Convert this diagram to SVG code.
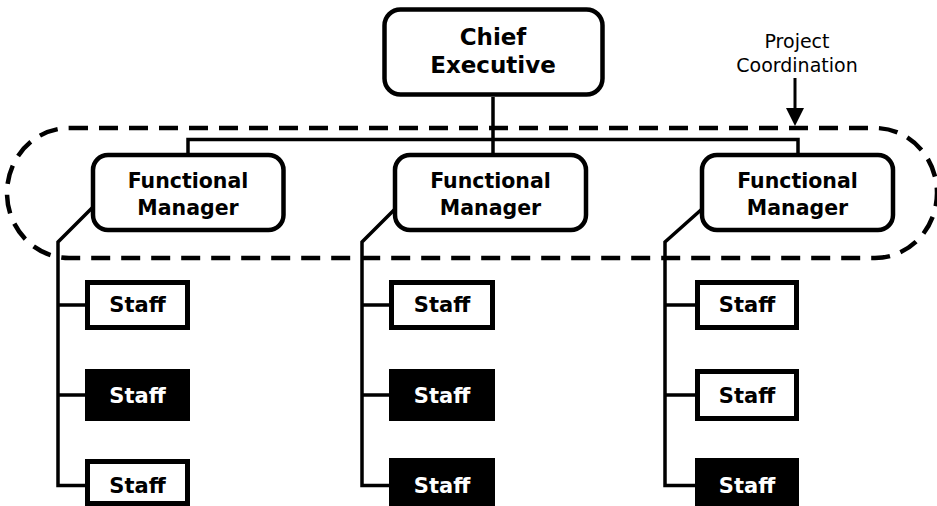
<svg xmlns="http://www.w3.org/2000/svg" width="937" height="506" viewBox="0 0 937 506">
<style>
.rbox{fill:#fff;stroke:#000;stroke-width:4.5}
.sw{fill:#fff;stroke:#000;stroke-width:5}
.sb{fill:#000;stroke:none}
.t{font-family:"DejaVu Sans","Liberation Sans",sans-serif;font-weight:bold;text-anchor:middle;fill:#000}
.tw{fill:#fff}
.ln{fill:none;stroke:#000;stroke-width:3.5;stroke-linejoin:miter}
.dash{fill:none;stroke:#000;stroke-width:4.5;stroke-dasharray:19 11}
.lbl{font-family:"DejaVu Sans","Liberation Sans",sans-serif;font-size:19px;text-anchor:middle;fill:#000}
</style>
<rect width="937" height="506" fill="#fff"/>
<g id="connectors">
<path class="ln" d="M493 97V140M188 156V139.5H798V156M493 139.5V156"/>
<path class="ln" d="M93 207L58 242V485.5H87M58 305H87M58 395H85"/>
<path class="ln" d="M395 209L362 242V485.5H389M362 305H389M362 395H389"/>
<path class="ln" d="M702 209L665 242V485.5H695M665 305H695M665 395H695"/>
</g>
<g id="project-coordination">
<rect class="dash" x="7" y="128" width="930" height="130" rx="62" ry="65"/>
<text class="lbl" x="797" y="48">Project</text>
<text class="lbl" x="797" y="72">Coordination</text>
<line x1="795" y1="78" x2="795" y2="110" stroke="#000" stroke-width="3"/>
<polygon points="786,108 804,108 795,126" fill="#000"/>
</g>
<g id="chief">
<rect class="rbox" x="384.5" y="9.5" width="218" height="85" rx="16" stroke-width="5"/>
<text class="t" font-size="23" x="493" y="45">Chief</text>
<text class="t" font-size="23" x="493" y="73">Executive</text>
</g>
<g id="fm1">
<rect class="rbox" x="93" y="155" width="190.5" height="75" rx="15"/>
<text class="t" font-size="20.5" x="188" y="188">Functional</text>
<text class="t" font-size="20.5" x="188" y="215">Manager</text>
</g>
<g id="fm2">
<rect class="rbox" x="395" y="155" width="191" height="75" rx="15"/>
<text class="t" font-size="20.5" x="490.5" y="188">Functional</text>
<text class="t" font-size="20.5" x="490.5" y="215">Manager</text>
</g>
<g id="fm3">
<rect class="rbox" x="702" y="155" width="191" height="75" rx="15"/>
<text class="t" font-size="20.5" x="797.5" y="188">Functional</text>
<text class="t" font-size="20.5" x="797.5" y="215">Manager</text>
</g>
<g id="s11"><rect class="sw" x="87.5" y="282.5" width="100" height="45"/><text class="t" font-size="21" x="137.5" y="312">Staff</text></g>
<g id="s12"><rect class="sb" x="85" y="369" width="105" height="52"/><text class="t tw" font-size="21" x="137.5" y="403">Staff</text></g>
<g id="s13"><rect class="sw" x="87.5" y="461.5" width="100" height="42"/><text class="t" font-size="21" x="137.5" y="493">Staff</text></g>
<g id="s21"><rect class="sw" x="391.5" y="282.5" width="101" height="45"/><text class="t" font-size="21" x="442" y="312">Staff</text></g>
<g id="s22"><rect class="sb" x="389" y="369" width="106" height="52"/><text class="t tw" font-size="21" x="442" y="403">Staff</text></g>
<g id="s23"><rect class="sb" x="389" y="458" width="106" height="48"/><text class="t tw" font-size="21" x="442" y="493">Staff</text></g>
<g id="s31"><rect class="sw" x="697.5" y="282.5" width="99" height="45"/><text class="t" font-size="21" x="747" y="312">Staff</text></g>
<g id="s32"><rect class="sw" x="697.5" y="371.5" width="99" height="47"/><text class="t" font-size="21" x="747" y="403">Staff</text></g>
<g id="s33"><rect class="sb" x="695" y="458" width="104" height="48"/><text class="t tw" font-size="21" x="747" y="493">Staff</text></g>
</svg>
